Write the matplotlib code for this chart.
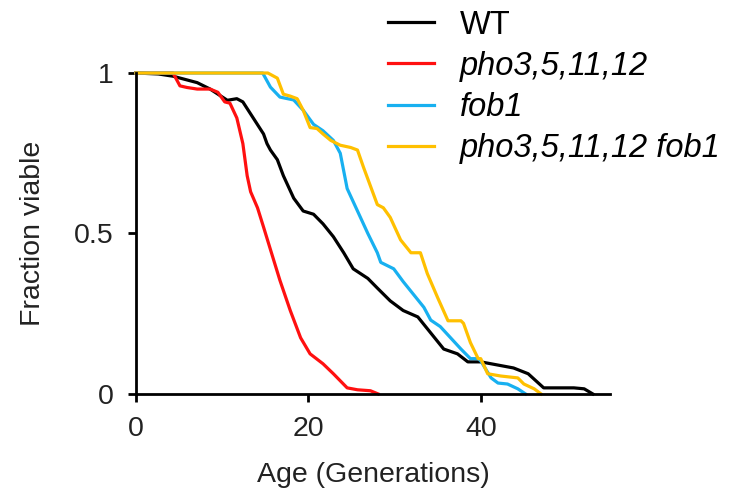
import matplotlib.pyplot as plt

plt.rcParams['font.family'] = ['Liberation Sans', 'DejaVu Sans']

# ages (generations) and fraction viable
wt_age = [0, 2.6, 4.3, 7.1, 8.6, 10.6, 11.7, 12.4, 13.6, 14.8, 15.2, 15.6, 16.4, 17.1,
          18.3, 19.4, 20.6, 21.7, 22.9, 24.1, 25.2, 26.9, 28.0, 29.5, 31.0, 32.7, 34.2,
          35.7, 37.3, 38.5, 40.0, 41.2, 43.8, 45.5, 47.3, 50.8, 52.0, 53.0]
wt_frac = [1.0, 0.997, 0.99, 0.97, 0.95, 0.915, 0.92, 0.91, 0.86, 0.81, 0.78, 0.76, 0.73, 0.68,
           0.61, 0.57, 0.56, 0.53, 0.49, 0.44, 0.39, 0.36, 0.33, 0.29, 0.26, 0.24, 0.19,
           0.14, 0.125, 0.10, 0.10, 0.094, 0.081, 0.063, 0.019, 0.019, 0.016, 0.0]

pho_age = [0, 4.3, 5.1, 5.9, 7.1, 8.6, 9.5, 10.3, 10.9, 11.7, 12.4, 12.9, 13.3, 14.1, 14.8,
           15.6, 16.7, 17.9, 19.1, 20.2, 21.7, 22.9, 24.5, 25.7, 27.2, 28.1]
pho_frac = [1.0, 1.0, 0.96, 0.955, 0.95, 0.95, 0.94, 0.91, 0.906, 0.86, 0.78, 0.68, 0.63, 0.58, 0.52,
            0.45, 0.354, 0.26, 0.175, 0.125, 0.094, 0.063, 0.019, 0.013, 0.01, 0.0]

fob_age = [0, 14.7, 15.6, 16.7, 18.3, 19.4, 20.6, 21.7, 22.9, 23.7, 24.5, 25.7, 26.9, 28.0,
           28.4, 29.9, 31.0, 32.2, 33.4, 34.2, 35.3, 36.5, 37.7, 38.8, 39.7, 40.0, 41.2,
           42.0, 43.1, 44.3, 45.2]
fob_frac = [1.0, 1.0, 0.956, 0.925, 0.916, 0.884, 0.84, 0.82, 0.79, 0.75, 0.64, 0.57, 0.50, 0.44,
            0.41, 0.39, 0.35, 0.31, 0.27, 0.23, 0.21, 0.175, 0.14, 0.11, 0.11, 0.103, 0.05,
            0.034, 0.031, 0.016, 0.0]

both_age = [0, 15.3, 16.4, 17.1, 17.9, 18.7, 19.4, 20.2, 21.0, 21.7, 22.6, 23.7, 24.9, 25.7,
            26.4, 28.0, 28.7, 29.5, 30.7, 31.9, 33.0, 33.8, 35.0, 36.2, 37.7, 38.0, 38.8,
            39.7, 40.0, 40.8, 42.3, 44.3, 45.0, 46.2, 47.0]
both_frac = [1.0, 1.0, 0.984, 0.934, 0.928, 0.92, 0.884, 0.83, 0.827, 0.81, 0.79, 0.775, 0.768, 0.76,
             0.706, 0.59, 0.58, 0.55, 0.48, 0.44, 0.44, 0.375, 0.30, 0.228, 0.228, 0.22, 0.16,
             0.11, 0.11, 0.063, 0.056, 0.05, 0.031, 0.016, 0.0]

labels = ['WT', 'pho3,5,11,12', 'fob1', 'pho3,5,11,12 fob1']
colors = ['black', '#FF1010', '#18B0F0', '#FFC000']

fig = plt.figure(figsize=(7.35, 4.9), dpi=100)
ax = fig.add_axes([0.185, 0.196, 0.645, 0.655])

series = [(wt_age, wt_frac), (pho_age, pho_frac), (fob_age, fob_frac), (both_age, both_frac)]
for (x, y), lab, c in zip(series, labels, colors):
    ax.plot(x, y, color=c, lw=2.3, label=lab, clip_on=False, solid_joinstyle='round')

ax.set_xlim(0, 55)
ax.set_ylim(0, 1)
ax.set_xticks([0, 20, 40])
ax.set_yticks([0, 0.5, 1])
ax.set_yticklabels(['0', '0.5', '1'])
for s in ['top', 'right']:
    ax.spines[s].set_visible(False)
for s in ['left', 'bottom']:
    ax.spines[s].set_linewidth(2.0)
ax.tick_params(width=2.0, length=6, labelsize=20.5, labelcolor='#222222', pad=10)

ax.set_xlabel('Age (Generations)', fontsize=20.5, color='#222222', labelpad=14)
ax.set_ylabel('Fraction viable', fontsize=20.5, color='#222222', labelpad=20)

leg = ax.legend(loc='upper left', bbox_to_anchor=(0.528, 0.98), bbox_transform=fig.transFigure,
                frameon=False, fontsize=23.5, handlelength=1.4, handletextpad=0.8,
                labelspacing=0.31, borderpad=0, borderaxespad=0)
for i, t in enumerate(leg.get_texts()):
    if i > 0:
        t.set_style('italic')
for h in leg.get_lines():
    h.set_linewidth(2.3)

fig.savefig('out.png', dpi=100)
